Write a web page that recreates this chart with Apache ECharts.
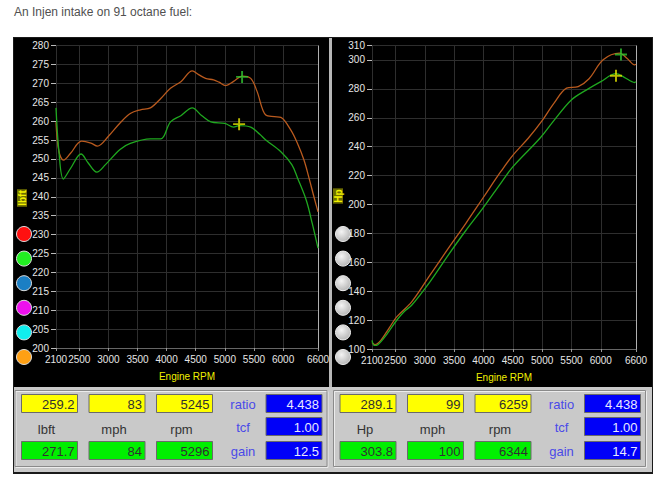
<!DOCTYPE html>
<html><head><meta charset="utf-8">
<script src="https://cdn.jsdelivr.net/npm/echarts@6/dist/echarts.min.js"></script>
<style>html,body{margin:0;padding:0;background:#fff;}#c{width:665px;height:497px;}</style>
</head><body><div id="c"></div>
<script>
// ---- data ----
const xTicks = [2100, 2500, 3000, 3500, 4000, 4500, 5000, 5500, 6000, 6600];
const torqueRpmA = [2100,2150,2230,2350,2540,2700,2810,3000,3200,3376,3550,3721,3900,4066,4250,4440,4550,4669,4807,4900,5014,5150,5300,5445,5550,5703,5850,5962,6134,6250,6359,6445,6530,6600];
const torqueA    = [259.7,252,249.7,251.5,254.7,254.2,253.4,256,259.5,262,263,263.5,266,268.7,270.5,273.3,272.3,271.3,270.9,270.3,269.4,270.5,271.9,271.3,268,261.6,261.2,261,257.6,254,249.7,245,240,236];
const torqueRpmB = [2100,2150,2226,2350,2530,2650,2800,2950,3200,3376,3721,3900,4066,4250,4440,4600,4760,5000,5150,5245,5445,5600,5703,5962,6150,6250,6400,6500,6600];
const torqueB    = [263.5,252,244.7,247.5,251.3,249,246.5,248.5,252.5,254.1,255.3,255.3,259.8,261.5,263.5,261.5,259.8,259.4,258.4,258.8,258.4,256.5,255,251.9,248.5,244.9,239,233,226.4];
const hpRpmA = [2100,2150,2250,2400,2521,2776,3088,3400,3700,4000,4300,4500,4763,5000,5200,5417,5614,5800,6040,6318,6450,6577,6600];
const hpA    = [104.5,103,106,115,122.2,132.6,151.1,169.6,187,205,223,234,245.8,258,270,280.5,281.6,287,300.1,304.7,301,296.6,297];
const hpRpmB = [2100,2140,2200,2350,2521,2650,2776,3088,3400,3700,4000,4300,4500,4962,5200,5502,5758,6000,6259,6400,6577,6600];
const hpB    = [106,102.5,103,110,119.9,126,130.3,146.5,165,182,198,215,226,245.8,258,272.4,279.3,285,290.5,288,284.4,285];
const torqueMarkA = [5296, 271.7];
const torqueMarkB = [5245, 259.2];
const hpMarkA = [6344, 303.8];
const hpMarkB = [6259, 289.1];
const leftTop = ['259.2','83','5245'];
const leftBottom = ['271.7','84','5296'];
const leftLabels = ['lbft','mph','rpm'];
const leftBlue = ['4.438','1.00','12.5'];
const rightTop = ['289.1','99','6259'];
const rightBottom = ['303.8','100','6344'];
const rightLabels = ['Hp','mph','rpm'];
const rightBlue = ['4.438','1.00','14.7'];
const blueLabels = ['ratio','tcf','gain'];
const leftDots = ['#ff1010','#22ee22','#1b7fc4','#ee10ee','#10eeee','#ffa014'];

// ---- helpers ----
const zip = (xs, ys) => xs.map((x, i) => [x, ys[i]]);
const ORANGE = '#b95a1e', GREEN = '#1fa81f';
const FONT = 'Arial, "Liberation Sans", sans-serif';
const cross = 'path://M4.2,0H5.8V4.2H10V5.8H5.8V10H4.2V5.8H0V4.2H4.2Z';

function xAxisDef(gi) {
  return {
    type: 'value', gridIndex: gi, min: 2100, max: 6600,
    name: 'Engine RPM', nameLocation: 'middle', nameGap: 23,
    nameTextStyle: {color: '#f0f000', fontSize: 10, fontFamily: FONT},
    axisLine: {show: true, lineStyle: {color: '#666'}},
    axisTick: {show: true, length: 3, customValues: xTicks, lineStyle: {color: '#999'}},
    axisLabel: {customValues: xTicks, color: '#e6e6e6', fontSize: 10, fontFamily: FONT, margin: 6,
      showMinLabel: true, showMaxLabel: true, hideOverlap: false, formatter: v => String(v)},
    splitLine: {show: true, lineStyle: {color: '#2e2e2e', width: 1}}
  };
}
function yAxisDef(gi, min, max, interval) {
  return {
    type: 'value', gridIndex: gi, min, max, interval,
    axisLine: {show: false},
    axisTick: {show: true, length: 5, lineStyle: {color: '#bbb'}},
    axisLabel: {color: '#e6e6e6', fontSize: 10, fontFamily: FONT, margin: 7, formatter: v => String(v)},
    splitLine: {show: true, lineStyle: {color: '#2e2e2e', width: 1}}
  };
}
function lineSeries(gi, data, color, edge) {
  const s = {type: 'line', xAxisIndex: gi, yAxisIndex: gi, data, smooth: 0.35, showSymbol: false,
    lineStyle: {color, width: 1.3}, itemStyle: {color}, z: 5};
  if (edge) s.markLine = {silent: true, symbol: 'none', label: {show: false},
    lineStyle: {color: '#b0b0b0', type: 'solid', width: 1}, data: [{xAxis: 6600}]};
  return s;
}
function markSeries(gi, pt, color) {
  return {type: 'scatter', xAxisIndex: gi, yAxisIndex: gi, data: [pt], symbol: cross, symbolSize: 12,
    itemStyle: {color}, z: 6, silent: true};
}

const g = [];
// title
g.push({type: 'text', x: 14, y: 6, style: {text: 'An Injen intake on 91 octane fuel:', fill: '#505050', font: '12px ' + FONT}});
// frame
g.push({type: 'rect', shape: {x: 13, y: 37, width: 640, height: 437}, style: {fill: '#1a1a1a'}, z: -10});
g.push({type: 'rect', shape: {x: 14, y: 38, width: 315, height: 349}, style: {fill: '#000'}, z: -9});
g.push({type: 'rect', shape: {x: 332, y: 38, width: 320, height: 349}, style: {fill: '#000'}, z: -9});
g.push({type: 'rect', shape: {x: 329, y: 38, width: 3, height: 349}, style: {fill: '#b8b8b8'}, z: -9});
g.push({type: 'rect', shape: {x: 14, y: 387, width: 638, height: 85}, style: {fill: '#c9c9c9'}, z: -9});
// axis names
function vName(x, y, t) {
  g.push({type: 'text', x, y, rotation: Math.PI / 2,
    style: {text: t, fill: '#f2f200', font: 'bold 10px ' + FONT, align: 'center', verticalAlign: 'middle',
      backgroundColor: '#6e6e00', padding: [0, 1]}});
}
vName(22, 198, 'lbft');
vName(338, 196, 'Hp');
// dots
leftDots.forEach((c, i) => {
  g.push({type: 'circle', shape: {cx: 24, cy: 234 + i * 24.6, r: 7.5}, style: {fill: c, stroke: '#ddd', lineWidth: 1}});
  g.push({type: 'circle', shape: {cx: 343, cy: 234 + i * 24.6, r: 7.5},
    style: {fill: new echarts.graphic.RadialGradient(0.4, 0.35, 0.7, [{offset: 0, color: '#f4f4f4'}, {offset: 1, color: '#b4b4b4'}]), stroke: '#eee', lineWidth: 1}});
});
// panels
function panel(bx, top, bottom, labels, blue) {
  g.push({type: 'rect', shape: {x: bx, y: 390.5, width: 312, height: 76}, style: {fill: 'none', stroke: '#8a8a8a', lineWidth: 1}});
  g.push({type: 'rect', shape: {x: bx + 1, y: 391.5, width: 312, height: 76}, style: {fill: 'none', stroke: '#ececec', lineWidth: 1}, z: -1});
  const cols = [6.5, 74, 141.5];
  function box(x, y, w, fill, txt, tc) {
    g.push({type: 'rect', shape: {x: x, y: y, width: w, height: 18}, style: {fill, stroke: '#6a6a6a', lineWidth: 1}});
    g.push({type: 'text', x: x + w - 3, y: y + 9.5, style: {text: txt, fill: tc, font: '13px ' + FONT, align: 'right', verticalAlign: 'middle'}});
  }
  cols.forEach((cx, i) => {
    box(bx + cx, 394.5, 56, '#ffff00', top[i], '#303030');
    box(bx + cx, 441.5, 56, '#00f000', bottom[i], '#303030');
    g.push({type: 'text', x: bx + cx + 25, y: 429, style: {text: labels[i], fill: '#333', font: '13px ' + FONT, align: 'center', verticalAlign: 'middle'}});
  });
  [394.5, 417.5, 441.5].forEach((y, i) => {
    box(bx + 251, y, 56, '#0000f8', blue[i], '#e8e8ff');
    g.push({type: 'text', x: bx + 228, y: y + 10, style: {text: blueLabels[i], fill: '#4a4ae8', font: '13px ' + FONT, align: 'center', verticalAlign: 'middle'}});
  });
}
panel(15, leftTop, leftBottom, leftLabels, leftBlue);
panel(333.5, rightTop, rightBottom, rightLabels, rightBlue);

const chart = echarts.init(document.getElementById('c'), null, {renderer: 'svg'});
chart.setOption({
  animation: false,
  backgroundColor: '#fff',
  grid: [
    {left: 56, right: 347, top: 45.5, bottom: 149, containLabel: false},
    {left: 372, right: 29, top: 45.5, bottom: 148, containLabel: false}
  ],
  xAxis: [xAxisDef(0), xAxisDef(1)],
  yAxis: [yAxisDef(0, 200, 280, 5), yAxisDef(1, 100, 310, 20)],
  series: [
    lineSeries(0, zip(torqueRpmA, torqueA), ORANGE, true),
    lineSeries(0, zip(torqueRpmB, torqueB), GREEN, false),
    markSeries(0, torqueMarkA, '#2fc82f'),
    markSeries(0, torqueMarkB, '#e6e600'),
    lineSeries(1, zip(hpRpmA, hpA), ORANGE, true),
    lineSeries(1, zip(hpRpmB, hpB), GREEN, false),
    markSeries(1, hpMarkA, '#2fc82f'),
    markSeries(1, hpMarkB, '#e6e600')
  ],
  graphic: {elements: g}
});
</script></body></html>
